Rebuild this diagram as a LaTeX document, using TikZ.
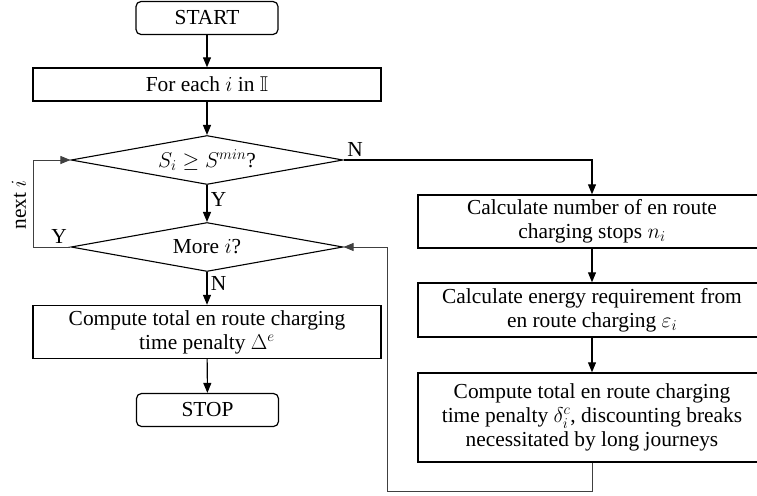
\documentclass[tikz,border=0pt]{standalone}
\usepackage{fix-cm}
\usepackage{amssymb}
\usepackage{fontspec}
\setmainfont{Liberation Serif}
\usetikzlibrary{shapes.geometric,arrows.meta}

\begin{document}
\begin{tikzpicture}[x=1pt, y=-1pt,
    font=\fontsize{21.4}{24}\selectfont,
    caja/.style={draw, line width=1.4pt, minimum width=348pt, inner sep=0pt, align=center},
    terminal/.style={draw, line width=1.2pt, rounded corners=5pt, minimum width=142pt, minimum height=33pt, inner sep=0pt},
    decision/.style={draw, diamond, aspect=5.55, line width=1.1pt, minimum width=272pt, minimum height=49pt, inner sep=0pt},
    flecha/.style={-{Triangle[length=10pt,width=8pt]}, line width=1.1pt},
    lazo/.style={line width=0.9pt, draw=black!75}]
    \useasboundingbox (0,0) rectangle (757,495);

    % Columna izquierda
    \node[terminal] (start) at (207,18) {START};
    \node[caja, minimum height=33pt] (foreach) at (207,84.5) {For each $i$ in $\mathbb{I}$};
    \node[decision] (dec1) at (207,160) {$S_i \geq S^{min}$?};
    \node[decision] (dec2) at (207,247) {More $i$?};
    \node[caja, minimum height=53pt] (total) at (207,332) {Compute total en route charging\\time penalty $\Delta^e$};
    \node[terminal] (stop) at (207.5,410) {STOP};

    % Columna derecha
    \node[caja, minimum height=53pt] (calcn) at (592,221.5) {Calculate number of en route\\charging stops $n_i$};
    \node[caja, minimum height=54pt] (calce) at (592,310) {Calculate energy requirement from\\en route charging $\varepsilon_i$};
    \node[caja, minimum height=89pt] (calcd) at (592,417.5) {Compute total en route charging\\time penalty $\delta_i^c$, discounting breaks\\necessitated by long journeys};

    % Flechas
    \draw[flecha] (start) -- (foreach);
    \draw[flecha] (foreach) -- (dec1);
    \draw[flecha] (dec1) -- (dec2) node[pos=0.4, right] {Y};
    \draw[flecha] (dec2) -- (total) node[pos=0.35, right] {N};
    \draw[flecha] (total) -- (stop);
    \draw[flecha] (dec1.east) -| (calcn.north) node[pos=0, above right] {N};
    \draw[flecha] (calcn) -- (calce);
    \draw[flecha] (calce) -- (calcd);

    % Bucles de vuelta
    \coordinate (izq) at (33,247);
    \coordinate (der) at (387,491);
    \draw[flecha, lazo] (dec2.west) -- (izq) node[pos=0.3, above] {Y} |- (dec1.west);
    \node[rotate=90] (nexti) at (19,205) {next $i$};
    \draw[flecha, lazo] (calcd.south) |- (der) |- (dec2.east);
\end{tikzpicture}
\end{document}
